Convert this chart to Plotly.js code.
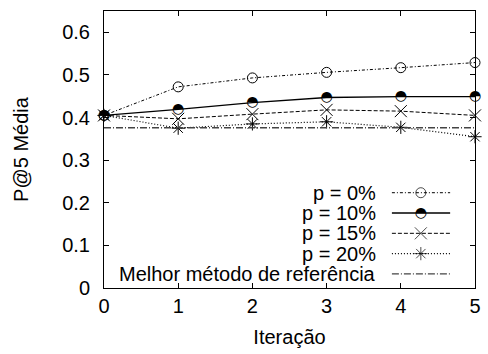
<!DOCTYPE html>
<html>
<head>
<meta charset="utf-8">
<script src="https://cdn.plot.ly/plotly-3.0.1.min.js"></script>
<style>html,body{margin:0;padding:0;background:#fff;}#chart{width:488px;height:354px;}</style>
</head>
<body>
<div id="chart"></div>
<script>
// ---- data ----
const iteracoes = [0, 1, 2, 3, 4, 5];
const p0 = [0.405, 0.472, 0.493, 0.506, 0.517, 0.529];
const p10 = [0.405, 0.419, 0.435, 0.447, 0.449, 0.449];
const p15 = [0.405, 0.397, 0.408, 0.418, 0.415, 0.405];
const p20 = [0.405, 0.375, 0.385, 0.390, 0.377, 0.355];
const referencia = [0.376, 0.376, 0.376, 0.376, 0.376, 0.376];
const seriesNames = ['p = 0%', 'p = 10%', 'p = 15%', 'p = 20%', 'Melhor método de referência'];
const yTicks = [0, 0.1, 0.2, 0.3, 0.4, 0.5, 0.6];
const xTicks = [0, 1, 2, 3, 4, 5];
const halfGlyph = '\u25D3';

// ---- styles ----
const FONT = 'Liberation Sans, Arial, Helvetica, sans-serif';
const styles = [
  {dash: '3px,2px,1px,2px', width: 1, symbol: 'circle-open', size: 10},
  {dash: 'solid', width: 1.3, symbol: null, size: 10},
  {dash: '4px,2px', width: 1, symbol: 'x-thin-open', size: 12},
  {dash: '1px,2px', width: 1.2, symbol: 'asterisk-open', size: 11},
  {dash: '7px,2px,1px,2px', width: 1.3, symbol: null, size: 0, color: '#444'}
];
const values = [p0, p10, p15, p20, referencia];

const traces = [];
values.forEach((v, i) => {
  const s = styles[i];
  const t = {
    x: iteracoes, y: v, type: 'scatter', name: seriesNames[i], showlegend: false,
    cliponaxis: false,
    line: {color: s.color || '#000', width: s.width, dash: s.dash},
    mode: s.symbol ? 'lines+markers' : 'lines'
  };
  if (s.symbol) t.marker = {symbol: s.symbol, size: s.size, color: '#000', line: {color: '#000', width: 1}};
  if (i === 1) {
    t.mode = 'lines+text';
    t.text = iteracoes.map(() => halfGlyph);
    t.textposition = 'middle center';
    t.textfont = {family: 'DejaVu Sans', size: 14, color: '#000'};
  }
  traces.push(t);
});

// ---- custom legend (text left, sample right), in plot-fraction coordinates ----
const legTextRight = 0.739, legX0 = 0.776, legX1 = 0.933, legXm = 0.854;
const legTop = 0.344, legStep = 0.0733;
const annotations = [];
values.forEach((v, i) => {
  const s = styles[i];
  const yy = legTop - i * legStep;
  const t = {
    x: [legX0, legXm, legX1], y: [yy, yy, yy], xaxis: 'x2', yaxis: 'y2', type: 'scatter',
    showlegend: false, hoverinfo: 'skip', cliponaxis: false,
    line: {color: s.color || '#000', width: s.width, dash: s.dash},
    mode: s.symbol ? 'lines+markers' : 'lines'
  };
  if (s.symbol) t.marker = {symbol: s.symbol, size: [0, s.size, 0], color: '#000', line: {color: '#000', width: 1}};
  if (i === 1) {
    t.mode = 'lines+text';
    t.text = ['', halfGlyph, ''];
    t.textposition = 'middle center';
    t.textfont = {family: 'DejaVu Sans', size: 14, color: '#000'};
  }
  traces.push(t);
  annotations.push({
    xref: 'paper', yref: 'paper', x: legTextRight, y: yy, xanchor: 'right', yanchor: 'middle',
    text: seriesNames[i], showarrow: false, font: {family: FONT, size: 20, color: '#000'}
  });
});

const axisCommon = {
  showline: true, linecolor: '#000', linewidth: 1, mirror: 'ticks',
  ticks: 'inside', ticklen: 5, tickcolor: '#000', tickwidth: 1,
  showgrid: false, zeroline: false,
  tickfont: {family: FONT, size: 20, color: '#000'}
};

const layout = {
  width: 488, height: 354,
  margin: {l: 104, r: 13, t: 11, b: 66},
  paper_bgcolor: '#fff', plot_bgcolor: '#fff',
  showlegend: false,
  xaxis: Object.assign({}, axisCommon, {
    range: [0, 5], tickvals: xTicks, ticktext: xTicks.map(String),
    title: {text: 'Iteração', font: {family: FONT, size: 20, color: '#000'}, standoff: 13}
  }),
  yaxis: Object.assign({}, axisCommon, {
    range: [0, 0.65], tickvals: yTicks, ticktext: yTicks.map(v => String(v)),
    ticklabelstandoff: 9,
    title: {text: 'P@5 Média', font: {family: FONT, size: 20, color: '#000'}, standoff: 28}
  }),
  xaxis2: {overlaying: 'x', range: [0, 1], visible: false, fixedrange: true},
  yaxis2: {overlaying: 'y', range: [0, 1], visible: false, fixedrange: true},
  annotations: annotations
};

Plotly.newPlot('chart', traces, layout, {staticPlot: true, displayModeBar: false});
</script>
</body>
</html>
